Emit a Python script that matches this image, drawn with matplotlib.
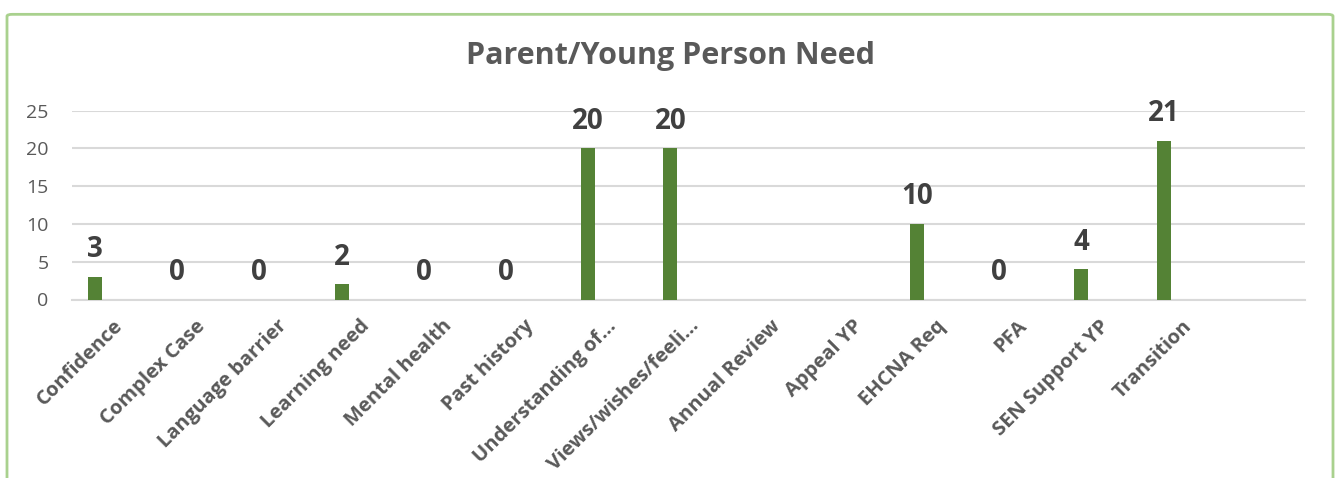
import matplotlib.pyplot as plt
from matplotlib.patches import FancyBboxPatch
import numpy as np

plt.rcParams["font.family"] = ["Open Sans", "DejaVu Sans"]

# kategorie i liczby przypadków
categories = ["Confidence", "Complex Case", "Language barrier", "Learning need",
              "Mental health", "Past history", "Understanding of...",
              "Views/wishes/feeli...", "Annual Review", "Appeal YP", "EHCNA Req",
              "PFA", "SEN Support YP", "Transition", ""]
counts = [3, 0, 0, 2, 0, 0, 20, 20, None, None, 10, 0, 4, 21, None]
y_ticks = [0, 5, 10, 15, 20, 25]

bar_color = "#548235"
text_gray = "#595959"
label_gray = "#404040"
grid_gray = "#d9d9d9"

fig = plt.figure(figsize=(13.37, 4.78), dpi=100)

# zielona ramka wykresu
frame = FancyBboxPatch((7 / 1337, -0.05), 1326 / 1337, 0.95 - (-0.05) + 0.02,
                       boxstyle="round,pad=0,rounding_size=0.004",
                       transform=fig.transFigure, fill=False,
                       edgecolor="#a9d18e", linewidth=2)
fig.patches.append(frame)

ax = fig.add_axes([72 / 1337, 178.5 / 478, 1233 / 1337, 188.8 / 478])

x = np.arange(len(categories))
for xi, val in zip(x, counts):
    if val is None:
        continue
    ax.bar(xi - 0.22, val, width=0.17, color=bar_color, zorder=3)
    ax.annotate(str(val), (xi - 0.22, val), xytext=(0, 9), textcoords="offset points",
                ha="center", va="bottom", fontsize=20, fontweight="bold",
                color=label_gray)

ax.set_xlim(-0.5, len(categories) - 0.5)
ax.set_ylim(0, 25)
ax.set_yticks(y_ticks)
ax.set_yticklabels([str(t) for t in y_ticks], fontsize=14, color=text_gray)
ax.set_xticks(x)
ax.set_xticklabels(categories, rotation=45, ha="right", rotation_mode="anchor",
                   fontsize=14.5, fontweight="bold", color=text_gray)

ax.grid(axis="y", color=grid_gray, linewidth=1.5, zorder=0)
ax.tick_params(axis="y", length=0, pad=17)
ax.tick_params(axis="x", length=0, pad=12)
for side in ["top", "right", "left"]:
    ax.spines[side].set_visible(False)
ax.spines["bottom"].set_color(grid_gray)
ax.spines["bottom"].set_linewidth(1.5)

fig.text(670 / 1337, 1 - 56 / 478, "Parent/Young Person Need", ha="center", va="center",
         fontsize=22, fontweight="bold", color=text_gray)

fig.savefig("out.png", dpi=100)
